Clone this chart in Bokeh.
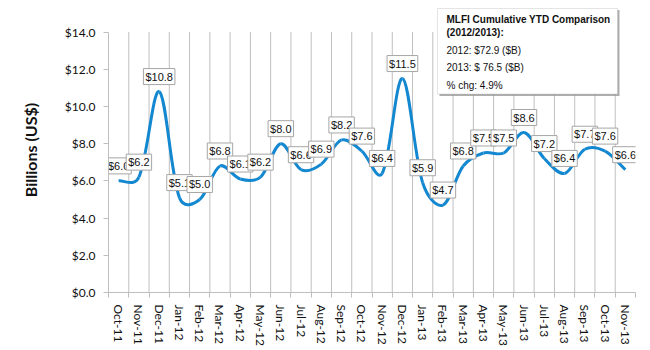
import numpy as np
from bokeh.plotting import figure
from bokeh.models import (ColumnDataSource, FixedTicker, Range1d, BoxAnnotation,
                          Label, NumeralTickFormatter)
from bokeh.core.properties import value
from bokeh.embed import file_html
from bokeh.resources import INLINE

# ---------------- data ----------------
months = ["Oct-11", "Nov-11", "Dec-11", "Jan-12", "Feb-12", "Mar-12", "Apr-12",
          "May-12", "Jun-12", "Jul-12", "Aug-12", "Sep-12", "Oct-12", "Nov-12",
          "Dec-12", "Jan-13", "Feb-13", "Mar-13", "Apr-13", "May-13", "Jun-13",
          "Jul-13", "Aug-13", "Sep-13", "Oct-13", "Nov-13"]
values = [6.0, 6.2, 10.8, 5.1, 5.0, 6.8, 6.1, 6.2, 8.0, 6.6, 6.9, 8.2, 7.6, 6.4,
          11.5, 5.9, 4.7, 6.8, 7.5, 7.5, 8.6, 7.2, 6.4, 7.7, 7.6, 6.6]
y_ticks = [0, 2, 4, 6, 8, 10, 12, 14]
legend_title = ["MLFI Cumulative YTD Comparison", "(2012/2013):"]
legend_lines = ["2012: $72.9 ($B)", "2013: $ 76.5  ($B)", "% chg: 4.9%"]
y_title = "Billions (US$)"

# ---------------- layout constants ----------------
W, H = 650, 350
frame_left, frame_right = 108, 635
frame_top, frame_bottom = 7, 291.5      # frame extends up so the box is not clipped
axis_top = 31.5                         # pixel row of the $14.0 tick
y_min, y_max = y_ticks[0], y_ticks[-1]
px_per_unit = (frame_bottom - axis_top) / (y_max - y_min)
y_range_end = y_min + (frame_bottom - frame_top) / px_per_unit

n = len(months)
px_per_cat = (frame_right - frame_left) / n
xs = np.arange(n, dtype=float)
ys = np.array(values, dtype=float)

p = figure(width=W, height=H, output_backend="svg", toolbar_location=None,
           x_range=Range1d(-0.5, n - 0.5), y_range=Range1d(y_min, y_range_end),
           min_border_left=frame_left, min_border_right=W - frame_right,
           min_border_top=frame_top, min_border_bottom=int(H - frame_bottom))
p.outline_line_color = None
p.background_fill_color = "white"
p.border_fill_color = "white"

grid_col = "#bfbfbf"
boundaries = np.arange(n + 1) - 0.5

# x axis: labels at category centres, tick marks at boundaries
p.xaxis.ticker = FixedTicker(ticks=list(xs), minor_ticks=list(boundaries))
p.xaxis.major_label_overrides = {float(i): m for i, m in enumerate(months)}
p.xaxis.major_label_orientation = "vertical"
p.xaxis.major_tick_line_color = None
p.xaxis.minor_tick_line_color = grid_col
p.xaxis.minor_tick_in = 0
p.xaxis.minor_tick_out = 5
p.xaxis.axis_line_color = grid_col
p.xaxis.major_label_text_font = "Lato"
p.xaxis.major_label_text_font_size = "12px"
p.xaxis.major_label_text_color = "#111111"
p.xaxis.major_label_standoff = 6

p.xgrid.grid_line_color = None
p.ygrid.grid_line_color = None

# vertical gridlines at inner category boundaries, spanning the value axis
gb = boundaries[1:-1]
p.segment(x0=gb, y0=[y_min] * len(gb), x1=gb, y1=[y_max] * len(gb),
          line_color=grid_col, line_width=1)

# y axis
p.yaxis.ticker = FixedTicker(ticks=y_ticks)
p.yaxis.bounds = (y_min, y_max)
p.yaxis.formatter = NumeralTickFormatter(format="$0.0")
p.yaxis.axis_line_color = grid_col
p.yaxis.major_tick_line_color = grid_col
p.yaxis.major_tick_in = 0
p.yaxis.major_tick_out = 5
p.yaxis.minor_tick_line_color = None
p.yaxis.major_label_text_font = "Lato"
p.yaxis.major_label_text_font_size = "12px"
p.yaxis.major_label_text_color = "#111111"
p.yaxis.major_label_standoff = 8
p.yaxis.axis_label = y_title
p.yaxis.axis_label_text_font = "Lato"
p.yaxis.axis_label_text_font_style = "bold"
p.yaxis.axis_label_text_font_size = "16px"
p.yaxis.axis_label_text_color = "#111111"
p.yaxis.axis_label_standoff = 22

# ---------------- smoothed line (Bezier segments computed from the data) ----------------
# control points computed in pixel space: blend of a uniform Catmull-Rom tangent and
# a tangent split by the neighbouring segment lengths
X = xs * px_per_cat
Y = ys * px_per_unit
Xp = np.concatenate([[X[0]], X, [X[-1]]])
Yp = np.concatenate([[Y[0]], Y, [Y[-1]]])
d_prev = np.hypot(Xp[1:-1] - Xp[:-2], Yp[1:-1] - Yp[:-2])
d_next = np.hypot(Xp[2:] - Xp[1:-1], Yp[2:] - Yp[1:-1])
tot = np.where(d_prev + d_next == 0, 1.0, d_prev + d_next)
tx = Xp[2:] - Xp[:-2]
ty = Yp[2:] - Yp[:-2]
w = 0.5
f_out = w * (1.0 / 6.0) + (1 - w) * (1.0 / 3.0) * d_next / tot
f_in = w * (1.0 / 6.0) + (1 - w) * (1.0 / 3.0) * d_prev / tot
out_x = X + f_out * tx
out_y = Y + f_out * ty
in_x = X - f_in * tx
in_y = Y - f_in * ty
seg = ColumnDataSource(dict(
    x0=xs[:-1], y0=ys[:-1], x1=xs[1:], y1=ys[1:],
    cx0=out_x[:-1] / px_per_cat, cy0=out_y[:-1] / px_per_unit,
    cx1=in_x[1:] / px_per_cat, cy1=in_y[1:] / px_per_unit))
p.bezier(x0="x0", y0="y0", x1="x1", y1="y1", cx0="cx0", cy0="cy0",
         cx1="cx1", cy1="cy1", source=seg, line_color="#1388d0", line_width=3)

# ---------------- data labels ----------------
src = ColumnDataSource(dict(x=xs, y=ys, lbl=["$%.1f" % v for v in values]))
p.text(x="x", y="y", text="lbl", source=src, y_offset=-15,
       text_align="center", text_baseline="middle",
       text_font=value("Liberation Sans"), text_font_size="11px",
       text_color="#111111", background_fill_color="white",
       border_line_color="#a6a6a6", border_line_width=1, padding=2)

# ---------------- comparison box ----------------
# screen units relative to the plot frame (x from left, y from bottom)
def fx(px):
    return px - frame_left

def fy(py):
    return frame_bottom - py

shadow = BoxAnnotation(left=fx(439), right=fx(619), top=fy(9), bottom=fy(95),
                       left_units="screen", right_units="screen",
                       top_units="screen", bottom_units="screen",
                       fill_color="#9a9a9a", fill_alpha=0.8, line_color=None)
box = BoxAnnotation(left=fx(437), right=fx(617), top=fy(7.5), bottom=fy(93),
                    left_units="screen", right_units="screen",
                    top_units="screen", bottom_units="screen",
                    fill_color="white", fill_alpha=1.0,
                    line_color="#a6a6a6", line_width=1)
p.add_layout(shadow)
p.add_layout(box)

title_y = [18.5, 31.5]
for tt, yy in zip(legend_title, title_y):
    p.add_layout(Label(x=fx(446), y=fy(yy), x_units="screen", y_units="screen", text=tt,
                       text_font="Liberation Sans", text_font_size="10px",
                       text_font_style="bold", text_color="#111111",
                       text_baseline="middle"))
line_y = [49.0, 66.5, 84.0]
for tt, yy in zip(legend_lines, line_y):
    p.add_layout(Label(x=fx(446), y=fy(yy), x_units="screen", y_units="screen", text=tt,
                       text_font="Liberation Sans", text_font_size="10px",
                       text_color="#111111", text_baseline="middle"))

open("out.html", "w").write(file_html(p, INLINE))
